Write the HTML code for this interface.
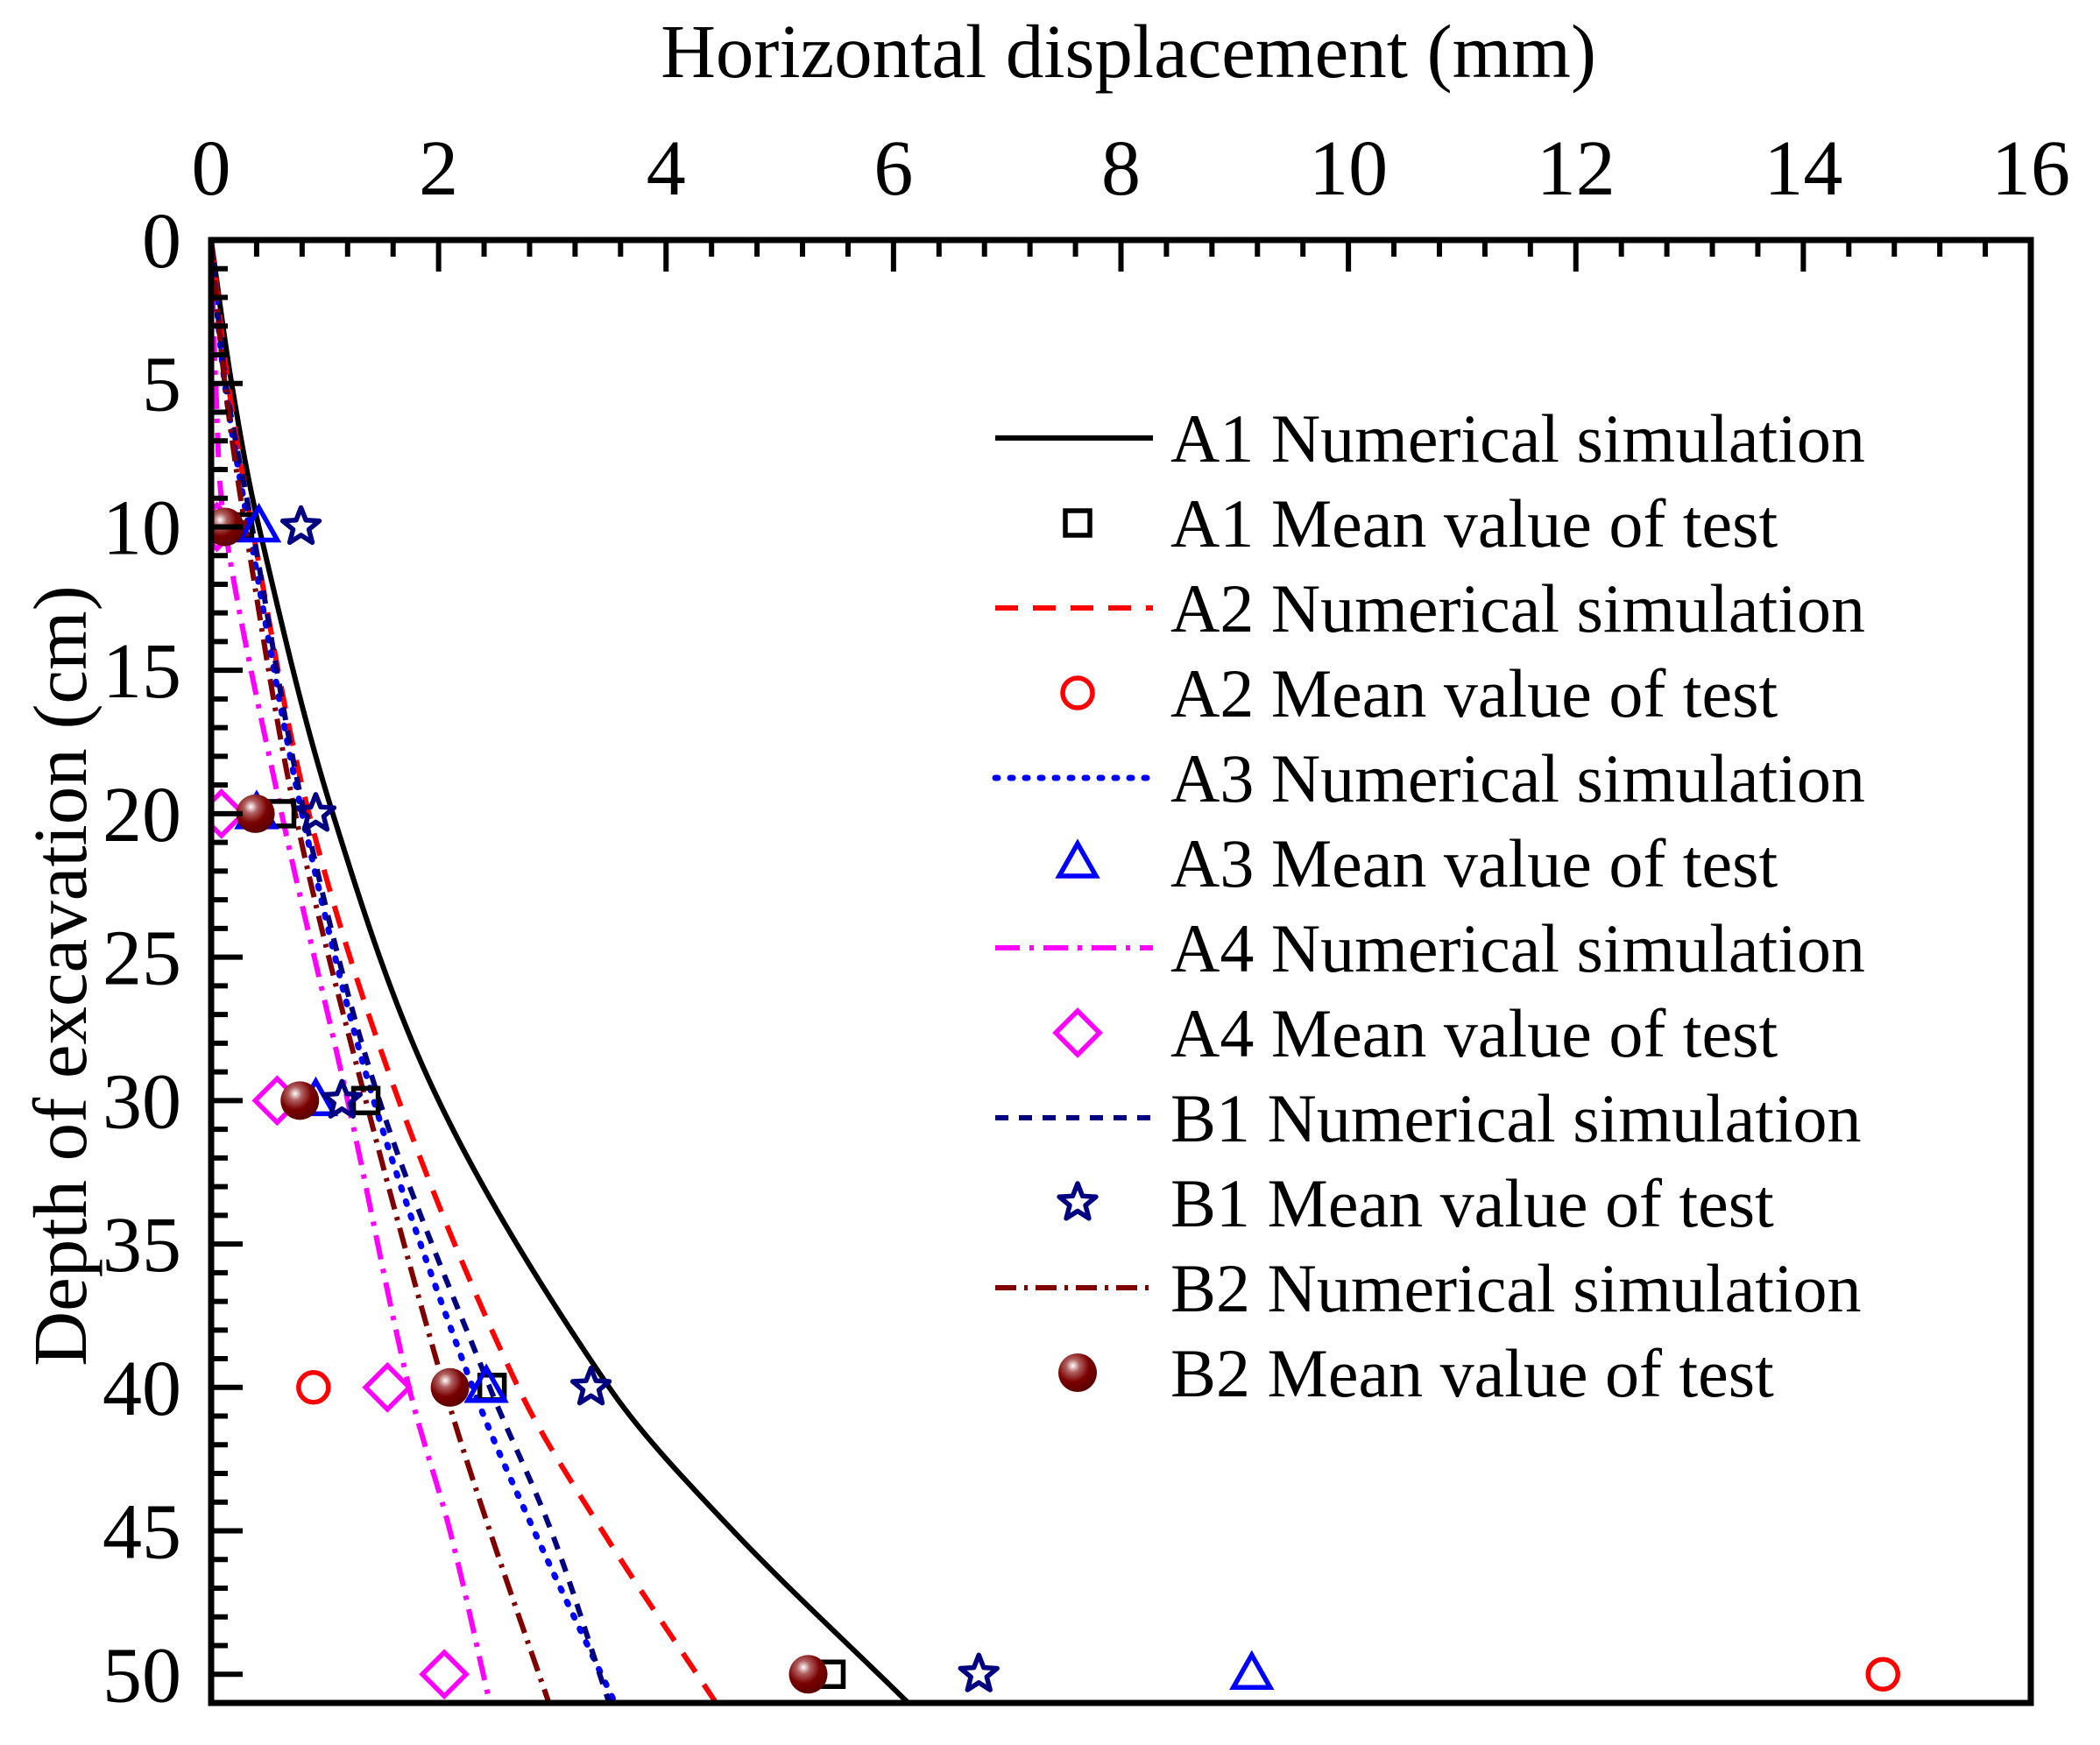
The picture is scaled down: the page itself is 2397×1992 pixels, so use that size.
<!DOCTYPE html>
<html><head><meta charset="utf-8"><style>
html,body{margin:0;padding:0;background:#fff}
svg{display:block;font-family:"Liberation Serif",serif}
</style></head><body>
<svg id="chart" width="2397" height="1992" viewBox="0 0 2397 1992" xmlns="http://www.w3.org/2000/svg">
<defs>
<radialGradient id="ballg" cx="0.38" cy="0.32" r="0.7">
<stop offset="0" stop-color="#fff"/><stop offset="0.25" stop-color="#b06060"/><stop offset="0.6" stop-color="#7a0000"/><stop offset="1" stop-color="#5a0000"/>
</radialGradient>
<clipPath id="plotclip"><rect x="241" y="274" width="2077" height="1670"/></clipPath>
</defs>
<g id="marks" clip-path="url(#plotclip)"></g>
<g id="axes"></g>
<g id="legend"></g>
</svg>
<script>
const depths=[0,5,10,20,30,40,45,51];
const simA1=[0,0.18,0.42,1.07,2.0,3.5,4.59,6.13];
const simA2=[0,0.15,0.36,0.86,1.65,2.7,3.44,4.44];
const simA3=[0,0.12,0.33,0.8,1.43,2.3,2.84,3.55];
const simA4=[0,0.04,0.12,0.62,1.2,1.74,2.1,2.45];
const simB1=[0,0.13,0.36,0.82,1.48,2.45,2.99,3.5];
const simB2=[0,0.12,0.3,0.74,1.36,2.05,2.45,2.97];
const testDepths=[10,20,30,40,50];
const testA1=[0.25,0.62,1.36,2.47,5.45];
const testA2=[0.12,0.39,0.78,0.9,14.7];
const testA3=[0.42,0.4,0.92,2.42,9.15];
const testA4=[0.05,0.09,0.58,1.55,2.05];
const testB1=[0.79,0.92,1.15,3.34,6.75];
const testB2=[0.12,0.39,0.78,2.1,5.25];
const xTicks=[0,2,4,6,8,10,12,14,16];
const yTicks=[0,5,10,15,20,25,30,35,40,45,50];
const legendLabels=["A1 Numerical simulation","A1 Mean value of test","A2 Numerical simulation","A2 Mean value of test","A3 Numerical simulation","A3 Mean value of test","A4 Numerical simulation","A4 Mean value of test","B1 Numerical simulation","B1 Mean value of test","B2 Numerical simulation","B2 Mean value of test"];

const L=241,R=2318,T=274,B=1944;
const X=v=>L+v/16*(R-L);
const Y=d=>T+d/51*(B-T);
const NS="http://www.w3.org/2000/svg";
function mk(tag,attrs,parent){const e=document.createElementNS(NS,tag);for(const k in attrs)e.setAttribute(k,attrs[k]);parent.appendChild(e);return e;}
const marks=document.getElementById('marks'),axes=document.getElementById('axes'),legend=document.getElementById('legend');

function curvePath(xs,ys){
  const p=xs.map((x,i)=>[X(x),Y(ys[i])]);
  let d=`M${p[0][0]},${p[0][1]}`;
  for(let i=0;i<p.length-1;i++){
    const p0=p[i-1]||p[i],p1=p[i],p2=p[i+1],p3=p[i+2]||p[i+1];
    const h=p2[1]-p1[1];
    const t1=[(p2[0]-p0[0])/(p2[1]-p0[1]||1),1],t2=[(p3[0]-p1[0])/(p3[1]-p1[1]||1),1];
    const c1=[p1[0]+t1[0]*h/3,p1[1]+h/3];
    const c2=[p2[0]-t2[0]*h/3,p2[1]-h/3];
    d+=`C${c1[0]},${c1[1]} ${c2[0]},${c2[1]} ${p2[0]},${p2[1]}`;
  }
  return d;
}
const series=[
 {name:'a1',sim:simA1,test:testA1,color:'#000',dash:'',mk:'square'},
 {name:'a2',sim:simA2,test:testA2,color:'#ff0000',dash:'26,17',mk:'circle'},
 {name:'a3',sim:simA3,test:testA3,color:'#0000ff',dash:'3,14',mk:'triangle'},
 {name:'a4',sim:simA4,test:testA4,color:'#ff00ff',dash:'28,11,5,11',mk:'diamond'},
 {name:'b1',sim:simB1,test:testB1,color:'#000080',dash:'15,12',mk:'star'},
 {name:'b2',sim:simB2,test:testB2,color:'#800000',dash:'24,9,4,9',mk:'ball'}
];
function drawMarker(type,cx,cy,color,parent){
  let e;
  if(type==='square')e=mk('rect',{x:cx-14,y:cy-14,width:28,height:28,fill:'none',stroke:'#000','stroke-width':5.5},parent);
  else if(type==='circle')e=mk('circle',{cx:cx,cy:cy,r:17,fill:'none',stroke:color,'stroke-width':5.5},parent);
  else if(type==='triangle')e=mk('polygon',{points:`${cx},${cy-22} ${cx+21},${cy+15} ${cx-21},${cy+15}`,fill:'none',stroke:color,'stroke-width':5.5},parent);
  else if(type==='diamond')e=mk('polygon',{points:`${cx},${cy-25} ${cx+25},${cy} ${cx},${cy+25} ${cx-25},${cy}`,fill:'none',stroke:color,'stroke-width':5.5},parent);
  else if(type==='star'){let pts=[];for(let k=0;k<10;k++){const r=k%2?9.5:22,a=-Math.PI/2+k*Math.PI/5;pts.push(`${cx+r*Math.cos(a)},${cy+r*Math.sin(a)}`);}e=mk('polygon',{points:pts.join(' '),fill:'none',stroke:color,'stroke-width':5.5,'stroke-linejoin':'round'},parent);}
  else e=mk('circle',{cx:cx,cy:cy,r:22,fill:'url(#ballg)'},parent);
  return e;
}
series.forEach(s=>{
  const p=mk('path',{d:curvePath(s.sim,depths),fill:'none',stroke:s.color,'stroke-width':s.mk==='triangle'?7:6,'stroke-dasharray':s.dash,'stroke-linecap':s.mk==='triangle'?'round':'butt'},marks);
  
  
});
series.forEach(s=>{
  s.test.forEach((v,i)=>{
    const m=drawMarker(s.mk,X(v),Y(testDepths[i]),s.color,marks);
    
    
  });
});
const fr=mk('rect',{x:L,y:T,width:R-L,height:B-T,fill:'none',stroke:'#000','stroke-width':7},axes);


for(let v=0;v<=16.001;v+=0.4){
  const major=Math.abs(v/2-Math.round(v/2))<1e-6;
  const t=mk('line',{x1:X(v),x2:X(v),y1:T,y2:T+(major?36:19),stroke:'#000','stroke-width':6},axes);
  
  
}
xTicks.forEach(v=>{
  const t=mk('text',{x:X(v),y:222,'font-size':90,'text-anchor':'middle',fill:'#000'},axes);
  t.textContent=v;
  
  
});
for(let d=1;d<=50;d++){
  const major=d%5===0;
  const t=mk('line',{x1:L,x2:L+(major?36:19),y1:Y(d),y2:Y(d),stroke:'#000','stroke-width':6},axes);
  
  
}
yTicks.forEach(d=>{
  const t=mk('text',{x:207,y:Y(d)+31,'font-size':90,'text-anchor':'end',fill:'#000'},axes);
  t.textContent=d;
  
  
});
const xt=mk('text',{x:1288,y:88,'font-size':87,'text-anchor':'middle',fill:'#000'},axes);
xt.textContent='Horizontal displacement (mm)';


const yt=mk('text',{x:0,y:0,'font-size':87,'text-anchor':'middle',fill:'#000',transform:'translate(98,1114) rotate(-90)'},axes);
yt.textContent='Depth of excavation (cm)';


legendLabels.forEach((lab,i)=>{
  const s=series[Math.floor(i/2)],cy=500+i*97.0;
  if(i%2===0){
    const l=mk('line',{x1:1136,x2:1316,y1:cy,y2:cy,stroke:s.color,'stroke-width':s.mk==='triangle'?7:6,'stroke-dasharray':s.dash,'stroke-linecap':s.mk==='triangle'?'round':'butt'},legend);
    
    
  } else {
    const m=drawMarker(s.mk,1230,cy,s.color,legend);
    
    
  }
  const t=mk('text',{x:1336,y:cy+27,'font-size':78,fill:'#000'},legend);
  t.textContent=lab;
  
  
});
</script>
</body></html>
